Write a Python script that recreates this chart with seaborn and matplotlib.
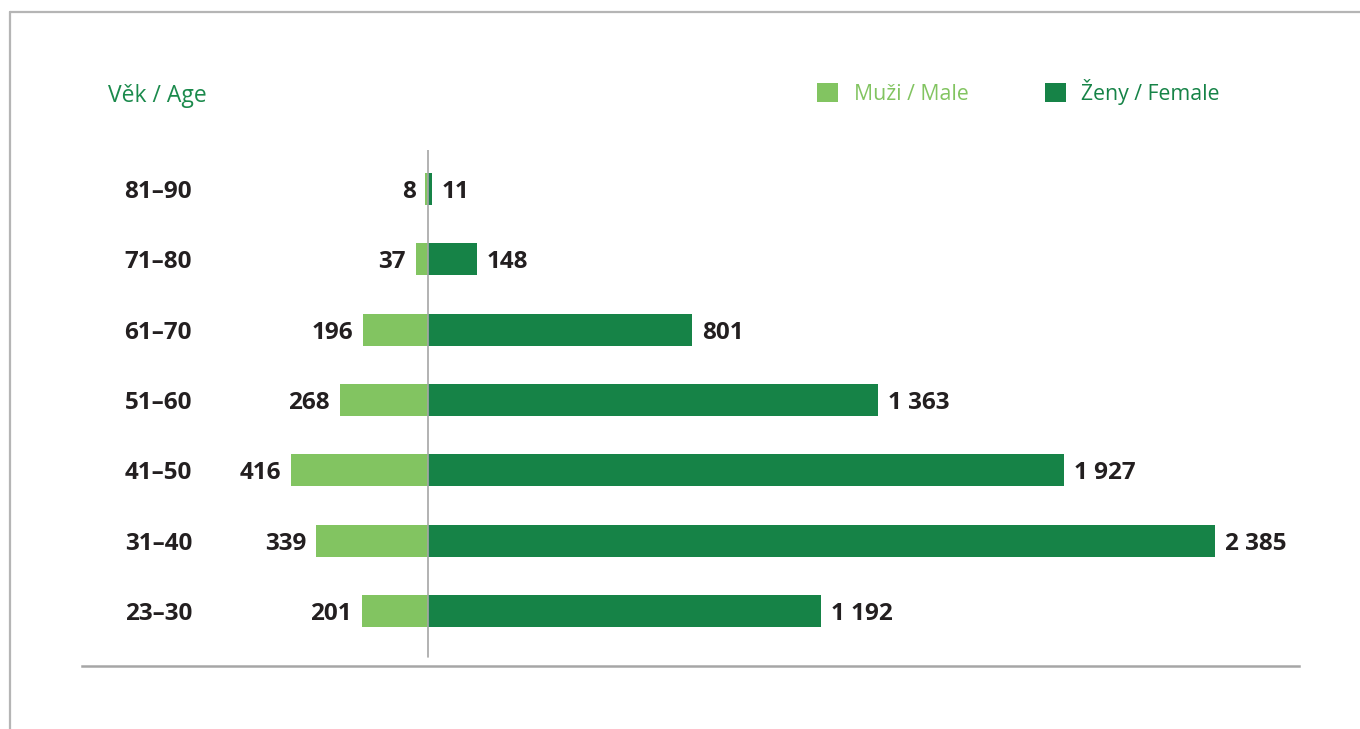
import matplotlib
matplotlib.use("Agg")
import matplotlib.pyplot as plt
from matplotlib.patches import Patch
from matplotlib.lines import Line2D
import seaborn as sns
import pandas as pd

ages = ["81–90", "71–80", "61–70", "51–60", "41–50", "31–40", "23–30"]
male = [8, 37, 196, 268, 416, 339, 201]
female = [11, 148, 801, 1363, 1927, 2385, 1192]

MALE_C = "#82C461"
FEMALE_C = "#168347"
TEXT_C = "#231F20"
TITLE_C = "#1B8A4C"
LINE_C = "#A6A6A6"

sns.set_theme(style="white")
plt.rcParams["font.family"] = ["Open Sans", "DejaVu Sans"]

W, H = 1360, 729
fig = plt.figure(figsize=(W / 100, H / 100), dpi=100)

# axes in pixel space
x0, x1 = 82, 1299
y_top, y_bot = 150, 666
ax = fig.add_axes([x0 / W, 1 - y_bot / H, (x1 - x0) / W, (y_bot - y_top) / H])

df_m = pd.DataFrame({"age": ages, "value": [-v for v in male]})
df_f = pd.DataFrame({"age": ages, "value": female})

sns.barplot(data=df_m, y="age", x="value", order=ages, color=MALE_C,
            saturation=1, width=0.455, orient="h", ax=ax, linewidth=0)
sns.barplot(data=df_f, y="age", x="value", order=ages, color=FEMALE_C,
            saturation=1, width=0.455, orient="h", ax=ax, linewidth=0)

fmt = lambda v: f"{v:,}".replace(",", " ")
LBL_FS = 17.5
t1 = ax.bar_label(ax.containers[0], labels=[fmt(v) for v in male], padding=7,
                  fontsize=LBL_FS, fontweight="bold", color=TEXT_C)
t2 = ax.bar_label(ax.containers[1], labels=[fmt(v) for v in female], padding=7,
                  fontsize=LBL_FS, fontweight="bold", color=TEXT_C)
for t in list(t1) + list(t2):
    t.set_va("center_baseline")

px_per_unit = 0.33
ax.set_xlim((x0 - 428) / px_per_unit, (x1 - 428) / px_per_unit)
spacing = 70.33
ax.set_ylim(6 + (y_bot - 611) / spacing, -(189 - y_top) / spacing)

ax.axvline(0, ymin=9 / (y_bot - y_top), ymax=1, color=LINE_C, lw=1.2, zorder=3)

for s in ["top", "right", "left"]:
    ax.spines[s].set_visible(False)
ax.spines["bottom"].set_color(LINE_C)
ax.spines["bottom"].set_linewidth(1.8)
ax.set_xticks([])
ax.set_xlabel("")
ax.set_ylabel("")
ax.tick_params(axis="y", length=0, pad=-(192 - x0) * 0.72)
for lab in ax.get_yticklabels():
    lab.set_fontsize(LBL_FS)
    lab.set_fontweight("bold")
    lab.set_color(TEXT_C)
    lab.set_horizontalalignment("right")
    lab.set_verticalalignment("center_baseline")

# title
fig.text(108 / W, 1 - 93 / H, "Věk / Age", color=TITLE_C, fontsize=16.5,
         ha="left", va="center_baseline")

# legend
handles = [Patch(facecolor=MALE_C, edgecolor="none"),
           Patch(facecolor=FEMALE_C, edgecolor="none")]
leg = fig.legend(handles, ["Muži / Male", "Ženy / Female"], ncol=2,
                 loc="center left", bbox_to_anchor=(817 / W, 1 - 92 / H),
                 frameon=False, fontsize=15.3, handlelength=1.0, handleheight=1.0,
                 handletextpad=0.72, columnspacing=3.6, borderpad=0,
                 borderaxespad=0, labelcolor=[MALE_C, FEMALE_C])

# frame lines
fig.add_artist(Line2D([10 / W, 1], [1 - 11.5 / H, 1 - 11.5 / H],
                      color="#B5B5B5", lw=1.6, transform=fig.transFigure))
fig.add_artist(Line2D([10 / W, 10 / W], [0, 1 - 11.5 / H],
                      color="#B5B5B5", lw=1.6, transform=fig.transFigure))

fig.savefig("out.png", dpi=100, facecolor="white")
